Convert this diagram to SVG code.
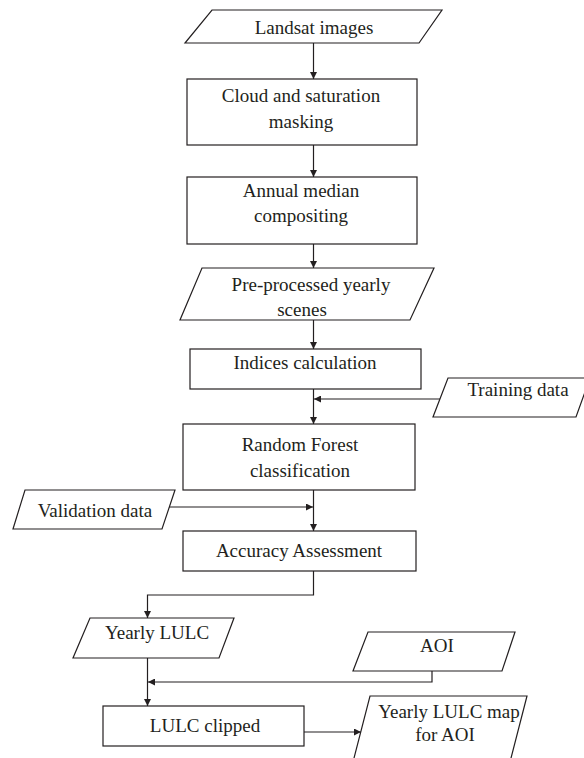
<svg xmlns="http://www.w3.org/2000/svg" width="584" height="758" viewBox="0 0 584 758">
<defs>
<marker id="ah" viewBox="0 0 10 10" refX="10" refY="5" markerWidth="7" markerHeight="7" markerUnits="userSpaceOnUse" orient="auto">
<path d="M0,0 L10,5 L0,10 z" fill="#231f20"/>
</marker>
<style>
.s{fill:#fff;stroke:#231f20;stroke-width:1.2}
.c{fill:none;stroke:#231f20;stroke-width:1.2}
.t{font-family:"Liberation Serif","Times New Roman",serif;font-size:19px;fill:#231f20;text-anchor:middle}
</style>
</defs>
<rect width="584" height="758" fill="#fff"/>
<g id="connectors">
<path class="c" d="M313.5,43 V79" marker-end="url(#ah)"/>
<path class="c" d="M313.5,145 V177" marker-end="url(#ah)"/>
<path class="c" d="M313.5,244 V268" marker-end="url(#ah)"/>
<path class="c" d="M313.5,320 V349" marker-end="url(#ah)"/>
<path class="c" d="M313.5,389 V424" marker-end="url(#ah)"/>
<path class="c" d="M440,399 H314" marker-end="url(#ah)"/>
<path class="c" d="M313.5,490 V531" marker-end="url(#ah)"/>
<path class="c" d="M169,507 H313" marker-end="url(#ah)"/>
<path class="c" d="M313.5,571 V595 H147.5 V618" marker-end="url(#ah)"/>
<path class="c" d="M147.5,658 V706" marker-end="url(#ah)"/>
<path class="c" d="M432,671 V682 H148" marker-end="url(#ah)"/>
<path class="c" d="M304,732 H361" marker-end="url(#ah)"/>
</g>
<g id="landsat">
<polygon class="s" points="212,10 442,10 419,43 185,43"/>
<text class="t" x="314" y="34">Landsat images</text>
</g>
<g id="cloud">
<rect class="s" x="187" y="79" width="230" height="66"/>
<text class="t" x="301" y="102">Cloud and saturation</text>
<text class="t" x="301" y="128">masking</text>
</g>
<g id="annual">
<rect class="s" x="187" y="177" width="230" height="67"/>
<text class="t" x="301" y="197">Annual median</text>
<text class="t" x="301" y="222">compositing</text>
</g>
<g id="preprocessed">
<polygon class="s" points="202,268 434,268 410,320 180,320"/>
<text class="t" x="311" y="291">Pre-processed yearly</text>
<text class="t" x="302" y="316">scenes</text>
</g>
<g id="indices">
<rect class="s" x="190" y="349" width="231" height="40"/>
<text class="t" x="305" y="369">Indices calculation</text>
</g>
<g id="training">
<polygon class="s" points="448,378 590,378 576,417 433,417"/>
<text class="t" x="518" y="396">Training data</text>
</g>
<g id="randomforest">
<rect class="s" x="183" y="424" width="232" height="66"/>
<text class="t" x="300" y="451">Random Forest</text>
<text class="t" x="300" y="477">classification</text>
</g>
<g id="validation">
<polygon class="s" points="25,490 175,490 162,529 13,529"/>
<text class="t" x="95" y="517">Validation data</text>
</g>
<g id="accuracy">
<rect class="s" x="183" y="531" width="233" height="40"/>
<text class="t" x="299" y="557">Accuracy Assessment</text>
</g>
<g id="yearlylulc">
<polygon class="s" points="90,618 234,618 219,658 73,658"/>
<text class="t" x="157" y="639">Yearly LULC</text>
</g>
<g id="aoi">
<polygon class="s" points="368,632 515,632 502,671 353,671"/>
<text class="t" x="437" y="652">AOI</text>
</g>
<g id="lulcclipped">
<rect class="s" x="103" y="706" width="201" height="40"/>
<text class="t" x="205" y="732">LULC clipped</text>
</g>
<g id="lulcmap">
<polygon class="s" points="370,696 527,696 510,762 353,762"/>
<text class="t" x="449" y="718">Yearly LULC map</text>
<text class="t" x="445" y="741">for AOI</text>
</g>
</svg>
